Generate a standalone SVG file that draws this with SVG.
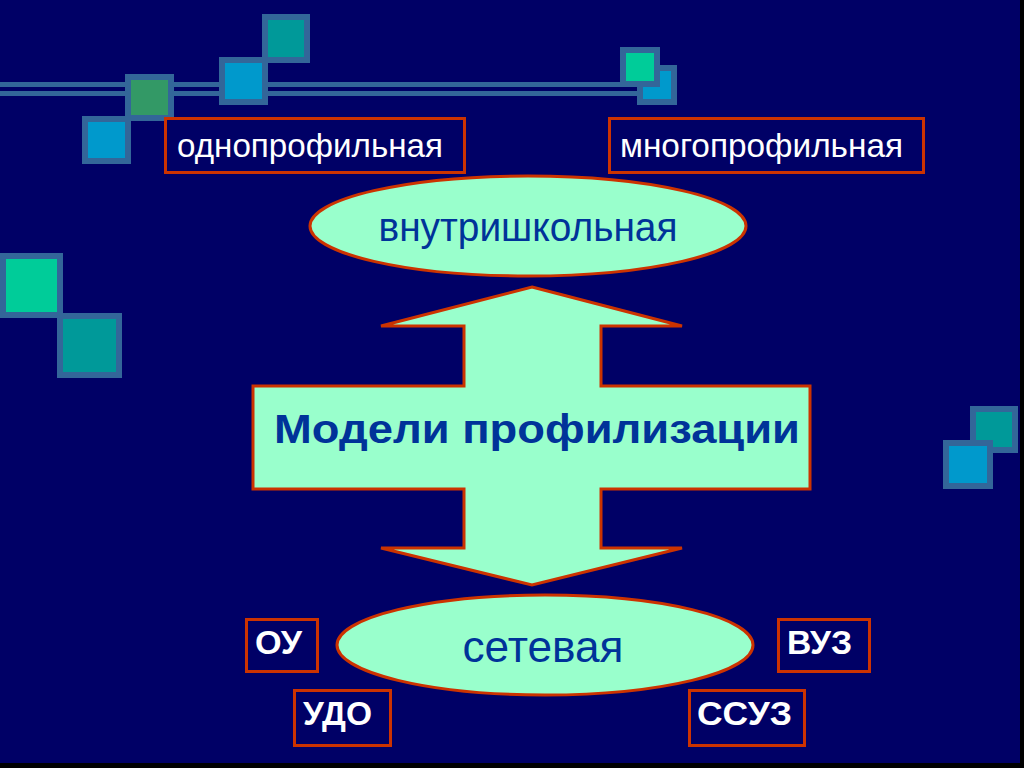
<svg xmlns="http://www.w3.org/2000/svg" width="1024" height="768" viewBox="0 0 1024 768">
<style>
.sq{stroke:#336699;stroke-width:6}
.box{fill:#000066;stroke:#cc3300;stroke-width:3}
.shape{fill:#99ffcc;stroke:#cc3300;stroke-width:3}
.wt{font-family:"Liberation Sans",Arial,sans-serif;fill:#ffffff}
.lb{font-family:"Liberation Sans",Arial,sans-serif;fill:#ffffff;font-size:33px;font-weight:bold}
.bt{font-family:"Liberation Sans",Arial,sans-serif;fill:#003399;text-anchor:middle}
</style>
<rect width="1024" height="768" fill="#000066"/>
<rect x="1020" y="0" width="4" height="768" fill="#000000"/>
<rect x="0" y="763" width="1024" height="5" fill="#000000"/>
<g id="decor">
<rect x="0" y="82" width="640" height="5" fill="#336699"/>
<rect x="0" y="91" width="640" height="5" fill="#336699"/>
<rect class="sq" x="265" y="17" width="42" height="43" fill="#009999"/>
<rect class="sq" x="222" y="60" width="43" height="42" fill="#0099cc"/>
<rect class="sq" x="128" y="77" width="43" height="41" fill="#339966"/>
<rect class="sq" x="85" y="119" width="43" height="42" fill="#0099cc"/>
<rect class="sq" x="640" y="68" width="34" height="34" fill="#0099cc"/>
<rect class="sq" x="623" y="50" width="34" height="34" fill="#00cc99"/>
<rect class="sq" x="60" y="316" width="59" height="59" fill="#009999"/>
<rect class="sq" x="3" y="256" width="57" height="59" fill="#00cc99"/>
<rect class="sq" x="973" y="409" width="42" height="41" fill="#009999"/>
<rect class="sq" x="946" y="443" width="44" height="43" fill="#0099cc"/>
</g>
<g id="connectors"></g>
<g id="odnoprof">
<rect class="box" x="165.5" y="118.5" width="299" height="54"/>
<text class="wt" x="177" y="157" font-size="34" textLength="266" lengthAdjust="spacingAndGlyphs">однопрофильная</text>
</g>
<g id="mnogoprof">
<rect class="box" x="609.5" y="118.5" width="314" height="54"/>
<text class="wt" x="620" y="157" font-size="34" textLength="283" lengthAdjust="spacingAndGlyphs">многопрофильная</text>
</g>
<g id="vnutrishk">
<ellipse class="shape" cx="528" cy="226" rx="218" ry="50"/>
<text class="bt" x="528" y="241" font-size="40" textLength="299" lengthAdjust="spacingAndGlyphs">внутришкольная</text>
</g>
<g id="models">
<polygon class="shape" stroke-linejoin="miter" points="532,287 682,326 601,326 601,386 810,386 810,489 601,489 601,548 682,548 532,585 381,548 464,548 464,489 253,489 253,386 464,386 464,326 381,326"/>
<text class="bt" x="537" y="443" font-size="41" font-weight="bold" textLength="526" lengthAdjust="spacingAndGlyphs">Модели профилизации</text>
</g>
<g id="setevaya">
<ellipse class="shape" cx="545" cy="645" rx="208" ry="50"/>
<text class="bt" x="543" y="662" font-size="44" textLength="161" lengthAdjust="spacingAndGlyphs">сетевая</text>
</g>
<g id="ou">
<rect class="box" x="246.5" y="619.5" width="71" height="52"/>
<text class="lb" x="255" y="654" textLength="47" lengthAdjust="spacingAndGlyphs">ОУ</text>
</g>
<g id="udo">
<rect class="box" x="294.5" y="690.5" width="96" height="55"/>
<text class="lb" x="303" y="725" textLength="69" lengthAdjust="spacingAndGlyphs">УДО</text>
</g>
<g id="vuz">
<rect class="box" x="778.5" y="619.5" width="91" height="52"/>
<text class="lb" x="787" y="654" textLength="65" lengthAdjust="spacingAndGlyphs">ВУЗ</text>
</g>
<g id="ssuz">
<rect class="box" x="689.5" y="690.5" width="115" height="55"/>
<text class="lb" x="697" y="725" textLength="95" lengthAdjust="spacingAndGlyphs">ССУЗ</text>
</g>
</svg>
